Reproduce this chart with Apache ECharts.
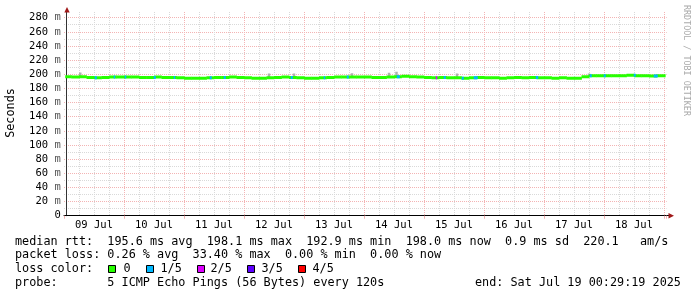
<!DOCTYPE html>
<html><head><meta charset="utf-8">
<script src="https://cdn.jsdelivr.net/npm/echarts@6/dist/echarts.min.js"></script>
<style>html,body{margin:0;padding:0;background:#fff}#c{width:697px;height:297px}</style>
</head><body><div id="c"></div>
<script>
// ---- data (hours since 09 Jul 00:00) ----
const dayLabels = ['09 Jul','10 Jul','11 Jul','12 Jul','13 Jul','14 Jul','15 Jul','16 Jul','17 Jul','18 Jul'];
const binHours = 3;
const dataStart = 0.49;
const dataEnd = 240.49;
// median rtt (ms) per 3-hour bin
const medianMs = [
  196.5,196,196.5,195.5,195,195.5,196,196,
  196,196,195.5,195.5,196,195.5,195.5,195,
  194.5,194.5,194.5,195,195.5,195.5,196,195.5,
  195,194.5,194.5,195,195.5,196,195.5,195,
  194.5,194.5,195,195.5,196,196,196,196,
  196,195.5,195.5,196,196.5,197,196.5,196,
  195.5,195,195.5,195,195,194.5,195,195.5,
  195,195,194.5,195,195.5,195,195.5,195,
  195,194.5,195,194.5,194.5,196.5,198,198,
  198,198,198,198.5,198,198,197.5,198,
  198
];
// packet loss events: start hour, duration (h), lost pings of 5
const lossHours = [12.3,19.9,24.3,35.9,43.9,58.3,63.9,90.7,103.9,113.1,133.1,148.7,151.9,159.1,163.9,188.7,210.3,215.9,227.9,235.9];
const lossDur   = [0.8,0.6,0.6,0.8,0.6,0.8,0.8,0.8,0.6,0.8,1.2,0.6,0.8,0.8,1.6,1.0,0.8,0.8,0.8,1.6];
const lossCount = [1,1,1,1,1,1,1,1,1,1,1,2,1,1,1,1,1,1,1,1];
// smoke (ping spread) peaks: hour, top value (ms)
const smokeHours = [6.0,81.5,91.5,114.7,129.5,132.5,156.7,209.5];
const smokeTop   = [202.5,201,201,201.5,202,203.5,201,201];

const lossLabels = ['0','1/5','2/5','3/5','4/5'];
const lossColors = ['#26ff00','#00b8ff','#dd00ff','#5e00ff','#ff0000'];
const statLines = [
  'median rtt:  195.6 ms avg  198.1 ms max  192.9 ms min  198.0 ms now  0.9 ms sd  220.1   am/s',
  'packet loss: 0.26 % avg  33.40 % max  0.00 % min  0.00 % now',
  'loss color:',
  'probe:       5 ICMP Echo Pings (56 Bytes) every 120s'
];
const endText = 'end: Sat Jul 19 00:29:19 2025';
const yName = 'Seconds';
const sideText = 'RRDTOOL / TOBI OETIKER';

// ---- chart ----
const MONO = '"DejaVu Sans Mono", monospace';
const minorColor = '#d9d9d9';
const majorColor = '#f3b4b4';
const X0 = 64, XR = 697 - 666.5, YT = 12, YB = 297 - 215.7;

function medianAt(h){
  const i = Math.min(medianMs.length - 1, Math.floor(h / binHours));
  return medianMs[i];
}

const chart = echarts.init(document.getElementById('c'), null, {renderer:'canvas'});

const legendGraphics = [];
const sqX = [108.3, 145.7, 196.7, 247, 297.7];
const lbX = [123.5, 160.5, 210.5, 261.5, 312.5];
lossLabels.forEach((lab, i) => {
  legendGraphics.push({type:'rect', shape:{x:Math.round(sqX[i])+0.5, y:265.5, width:7, height:7},
    style:{fill:lossColors[i], stroke:'#000', lineWidth:1}});
  legendGraphics.push({type:'text', x:lbX[i], y:269.3,
    style:{text:lab, font:'11.8px ' + MONO, fill:'#000', textVerticalAlign:'middle'}});
});

const lineY = [241.7, 255.2, 269.3, 283.3];
const dotted = (c) => ({color:c, type:[1,1], width:1});

chart.setOption({
  animation:false,
  backgroundColor:'#fff',
  grid:{left:X0, right:XR, top:YT, bottom:YB},
  xAxis:[
    {type:'value', position:'bottom', min:0, max:241, interval:6,
     axisLine:{show:false}, axisTick:{show:false}, axisLabel:{show:false},
     splitLine:{show:true, showMinLine:false, showMaxLine:false, lineStyle:dotted(minorColor)}},
    {type:'value', position:'bottom', min:0, max:241, interval:24,
     axisLine:{show:true, lineStyle:{color:'#000', width:1}},
     axisTick:{show:true, length:3, lineStyle:{color:majorColor}},
     axisLabel:{show:false},
     splitLine:{show:true, showMinLine:false, showMaxLine:false, lineStyle:dotted(majorColor)}},
    {type:'value', position:'bottom', min:0, max:241, interval:12,
     axisLine:{show:false}, axisTick:{show:false}, splitLine:{show:false},
     axisLabel:{show:true, margin:4, fontFamily:MONO, fontSize:10.5, color:'#000',
       showMinLabel:false, showMaxLabel:false,
       formatter:(v)=> (v % 24 === 12 ? (dayLabels[(v - 12) / 24] || '') : '')}}
  ],
  yAxis:[
    {type:'value', position:'left', min:0, max:288, interval:10,
     axisLine:{show:false}, axisTick:{show:false}, axisLabel:{show:false},
     splitLine:{show:true, showMinLine:false, showMaxLine:false, lineStyle:dotted(minorColor)}},
    {type:'value', position:'left', min:0, max:288, interval:20, offset:-2.7,
     axisLine:{show:true, lineStyle:{color:'#333', width:1}},
     axisTick:{show:false},
     axisLabel:{show:true, margin:6, fontFamily:MONO, fontSize:10.5, color:'#000', showMaxLabel:false,
       formatter:(v)=> v === 0 ? '0' : '{n|' + v + ' }{u|m}',
       rich:{n:{fontFamily:MONO, fontSize:10.5, color:'#000'}, u:{fontFamily:MONO, fontSize:10.5, color:'#555'}}},
     splitLine:{show:true, showMinLine:false, showMaxLine:false, lineStyle:dotted(majorColor)}}
  ],
  series:[
    {type:'custom', xAxisIndex:0, yAxisIndex:0, clip:true, z:2,
     data: smokeHours.map((h,k)=>[h, smokeTop[k], medianAt(h)]),
     renderItem:(params, api)=>{
       const h = api.value(0), top = api.value(1), med = api.value(2);
       const p0 = api.coord([h, top]), p1 = api.coord([h + 1.0, med]);
       return {type:'rect', shape:{x:p0[0], y:p0[1], width:p1[0]-p0[0], height:p1[1]-p0[1]},
         style:{fill:'#b0b0b0'}};
     }},
    {type:'custom', xAxisIndex:0, yAxisIndex:0, clip:true, z:3,
     data: medianMs.map((v,i)=>[i, v]),
     renderItem:(params, api)=>{
       const i = api.value(0), v = api.value(1);
       const t0 = Math.max(i*binHours, dataStart), t1 = Math.min((i+1)*binHours, dataEnd);
       const p0 = api.coord([t0, v]), p1 = api.coord([t1, v]);
       return {type:'rect', shape:{x:p0[0], y:p0[1]-1.5, width:p1[0]-p0[0]+0.4, height:3},
         style:{fill:lossColors[0]}};
     }},
    {type:'custom', xAxisIndex:0, yAxisIndex:0, clip:true, z:4,
     data: lossHours.map((h,k)=>[h, lossDur[k], lossCount[k], medianAt(h)]),
     renderItem:(params, api)=>{
       const h = api.value(0), d = api.value(1), c = api.value(2), v = api.value(3);
       const p0 = api.coord([h, v]), p1 = api.coord([h + d, v]);
       return {type:'rect', shape:{x:p0[0], y:p0[1]-1.5, width:Math.max(1, p1[0]-p0[0]), height:3},
         style:{fill:lossColors[c]}};
     }}
  ],
  graphic:[
    {type:'polygon', shape:{points:[[67,7],[64.3,12.5],[69.7,12.5]]}, style:{fill:'#a01818'}, z:10},
    {type:'polygon', shape:{points:[[674,215.7],[668.5,213],[668.5,218.4]]}, style:{fill:'#a01818'}, z:10},
    {type:'line', shape:{x1:666.5, y1:215.5, x2:669, y2:215.5}, style:{stroke:'#000', lineWidth:1}},
    {type:'text', x:11, y:113, rotation:Math.PI/2,
     style:{text:yName, font:'11.8px ' + MONO, fill:'#000', textAlign:'center', textVerticalAlign:'middle'}},
    {type:'text', x:686.5, y:5, rotation:-Math.PI/2,
     style:{text:sideText, font:'8.4px ' + MONO, fill:'#aaaaaa', textAlign:'left', textVerticalAlign:'middle'}},
    ...statLines.map((t,i)=>({type:'text', x:15, y:lineY[i],
      style:{text:t, font:'11.8px ' + MONO, fill:'#000', textVerticalAlign:'middle'}})),
    {type:'text', x:475, y:lineY[3], style:{text:endText, font:'11.8px ' + MONO, fill:'#000', textVerticalAlign:'middle'}},
    ...legendGraphics
  ]
});
</script>
</body></html>
